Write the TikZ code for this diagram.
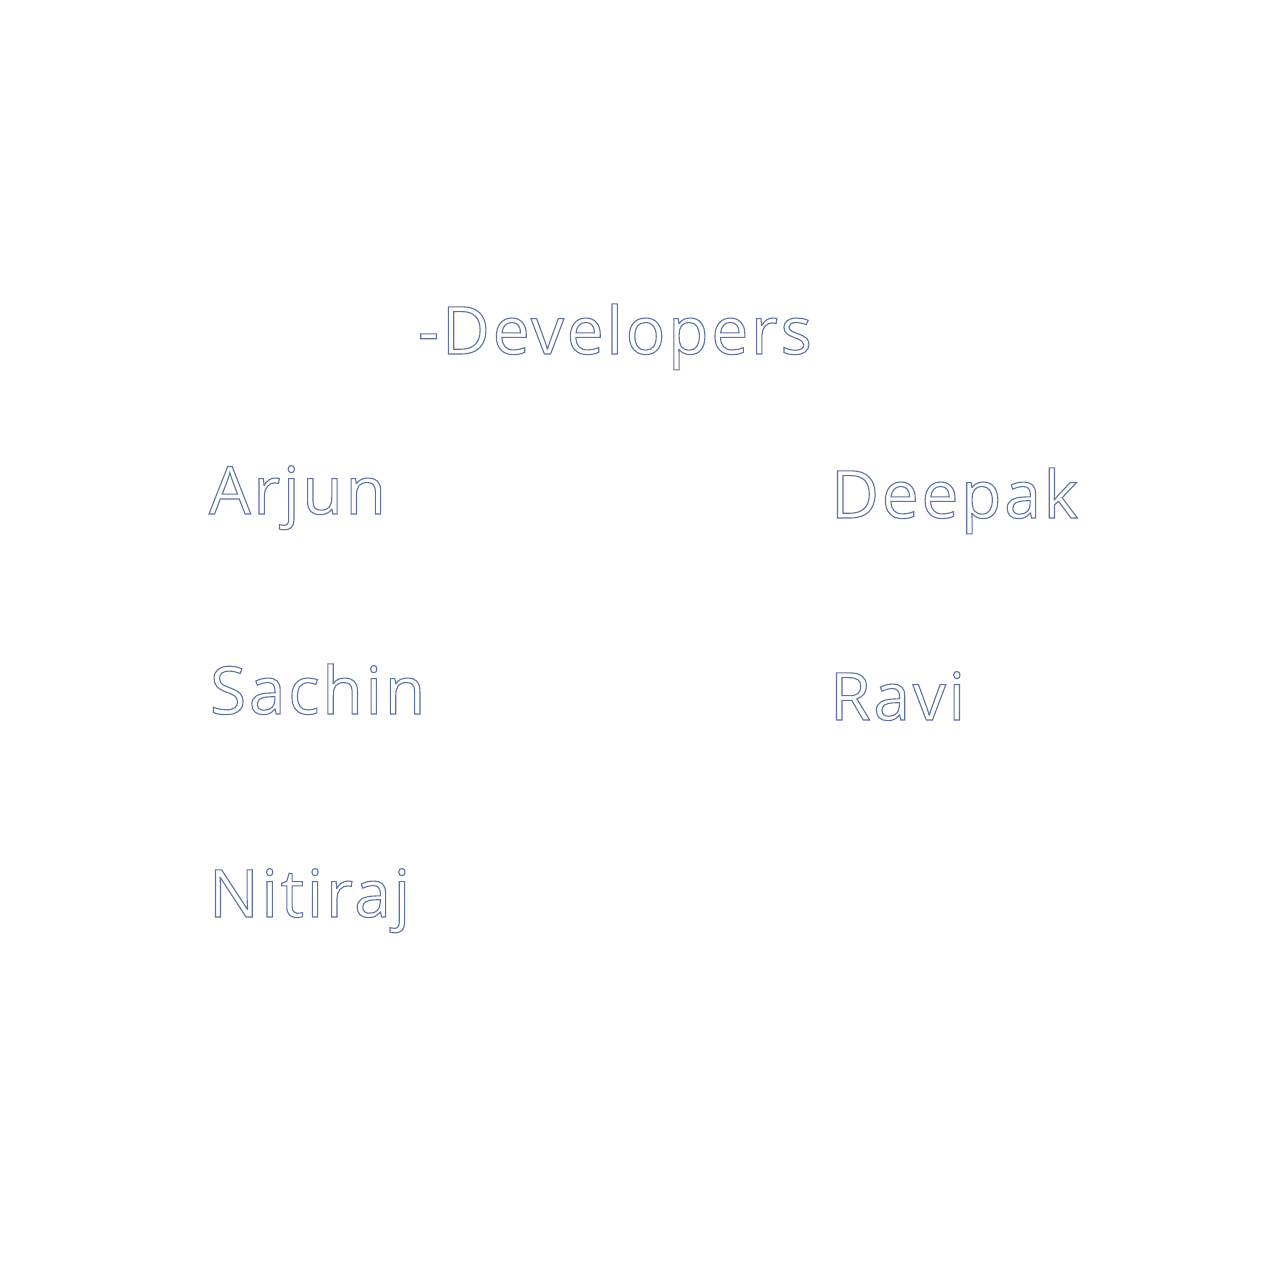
\documentclass[tikz,border=0pt]{standalone}
\usepackage{fontspec}
\setmainfont{Open Sans}[LetterSpace=4]
\newcommand{\outltext}[1]{\special{pdf:literal 1 Tr 1.1 w 0.36 0.45 0.64 RG}#1\special{pdf:literal 0 Tr}}
\tikzset{
  lbl/.style={anchor=base west, inner sep=0pt, outer sep=0pt,
    font=\fontsize{66}{70}\selectfont}
}
\begin{document}
\begin{tikzpicture}[x=1pt,y=1pt]
\useasboundingbox (0,0) rectangle (1280,1280);
\fill[white] (0,0) rectangle (1280,1280);
\node[lbl] (dev) at (418,1280-354) {\outltext{-Developers}};
\node[lbl] (arjun) at (209,1280-514) {\outltext{Arjun}};
\node[lbl] (deepak) at (831,1280-518) {\outltext{Deepak}};
\node[lbl] (sachin) at (210,1280-714) {\outltext{Sachin}};
\node[lbl] (ravi) at (830,1280-720) {\outltext{Ravi}};
\node[lbl] (nitiraj) at (209,1280-917) {\outltext{Nitiraj}};
\end{tikzpicture}
\end{document}
